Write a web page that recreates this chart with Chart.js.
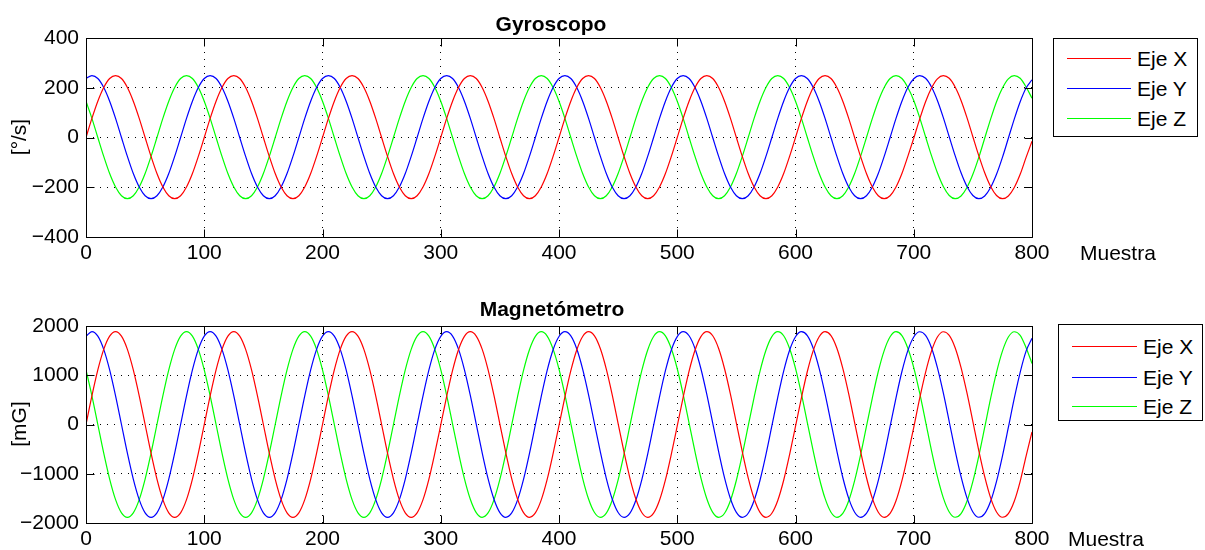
<!DOCTYPE html>
<html>
<head>
<meta charset="utf-8">
<script src="https://cdn.jsdelivr.net/npm/chart.js@4/dist/chart.umd.min.js"></script>
<style>
  html, body { margin: 0; padding: 0; background: #fff; }
  body { width: 1205px; height: 550px; position: relative; overflow: hidden; font-family: "Liberation Sans", Arial, sans-serif; color: #000; }
  .cv { position: absolute; left: 0; }
  .txt { position: absolute; font-size: 21px; line-height: 1; white-space: nowrap; }
  .title { font-weight: bold; transform: translate(-50%, -50%); }
  .ylab { transform: translate(-50%, -50%) rotate(-90deg); }
  .legend { position: absolute; border: 1px solid #000; background: #fff; box-sizing: border-box; }
  .legend .ln { position: absolute; height: 0; border-top: 1px solid; }
  .legend .lt { position: absolute; font-size: 21px; line-height: 1; transform: translateY(-50%); white-space: nowrap; }
</style>
</head>
<body>
<canvas id="c1" class="cv" width="1205" height="275" style="top:0"></canvas>
<canvas id="c2" class="cv" width="1205" height="275" style="top:275px"></canvas>

<div class="txt title" style="left:551px; top:23px">Gyroscopo</div>
<div class="txt title" style="left:552px; top:308px">Magnetómetro</div>
<div class="txt ylab" style="left:18px; top:137px">[°/s]</div>
<div class="txt ylab" style="left:18px; top:424px">[mG]</div>
<div class="txt" style="left:1080px; top:242px">Muestra</div>
<div class="txt" style="left:1068px; top:528px">Muestra</div>
<div id="leg1" class="legend" style="left:1053px; top:38px; width:145px; height:99px"></div>
<div id="leg2" class="legend" style="left:1058px; top:324px; width:145px; height:97px"></div>

<script>
// ---------- data ----------
const samples = [
  0,5,10,15,20,25,30,35,40,45,50,55,60,65,70,75,80,85,90,95,
  100,105,110,115,120,125,130,135,140,145,150,155,160,165,170,175,180,185,190,195,
  200,205,210,215,220,225,230,235,240,245,250,255,260,265,270,275,280,285,290,295,
  300,305,310,315,320,325,330,335,340,345,350,355,360,365,370,375,380,385,390,395,
  400,405,410,415,420,425,430,435,440,445,450,455,460,465,470,475,480,485,490,495,
  500,505,510,515,520,525,530,535,540,545,550,555,560,565,570,575,580,585,590,595,
  600,605,610,615,620,625,630,635,640,645,650,655,660,665,670,675,680,685,690,695,
  700,705,710,715,720,725,730,735,740,745,750,755,760,765,770,775,780,785,790,795,
  800
];
const seriesNames = ["Eje X", "Eje Y", "Eje Z"];
const seriesColors = ["#ff0000", "#0000ff", "#00ff00"];

const gyroTicks = [-400, -200, 0, 200, 400];
const magTicks = [-2000, -1000, 0, 1000, 2000];
const sampleTicks = [0, 100, 200, 300, 400, 500, 600, 700, 800];

const gyroX = [
  0,77,146,201,237,249,237,201,146,77,0,-76,-145,-199,-234,-246,-234,-199,-145,-76,
  0,77,146,201,237,249,237,201,146,77,0,-76,-145,-199,-234,-246,-234,-199,-145,-76,
  0,77,146,201,237,249,237,201,146,77,0,-76,-145,-199,-234,-246,-234,-199,-145,-76,
  0,77,146,201,237,249,237,201,146,77,0,-76,-145,-199,-234,-246,-234,-199,-145,-76,
  0,77,146,201,237,249,237,201,146,77,0,-76,-145,-199,-234,-246,-234,-199,-145,-76,
  0,77,146,201,237,249,237,201,146,77,0,-76,-145,-199,-234,-246,-234,-199,-145,-76,
  0,77,146,201,237,249,237,201,146,77,0,-76,-145,-199,-234,-246,-234,-199,-145,-76,
  -3,74,144,199,236,249,238,203,149,80,3,-73,-142,-197,-233,-246,-235,-201,-148,-80,
  -15
];
const gyroY = [
  237,249,237,201,146,77,0,-76,-145,-199,-234,-246,-234,-199,-145,-76,0,77,146,201,
  237,249,237,201,146,77,0,-76,-145,-199,-234,-246,-234,-199,-145,-76,0,77,146,201,
  237,249,237,201,146,77,0,-76,-145,-199,-234,-246,-234,-199,-145,-76,0,77,146,201,
  237,249,237,201,146,77,0,-76,-145,-199,-234,-246,-234,-199,-145,-76,0,77,146,201,
  237,249,237,201,146,77,0,-76,-145,-199,-234,-246,-234,-199,-145,-76,0,77,146,201,
  237,249,237,201,146,77,0,-76,-145,-199,-234,-246,-234,-199,-145,-76,0,77,146,201,
  237,249,237,201,146,77,0,-76,-145,-199,-234,-246,-234,-199,-145,-76,0,77,146,201,
  236,249,238,203,149,80,3,-73,-142,-197,-233,-246,-235,-201,-148,-80,-3,74,144,199,
  232
];
const gyroZ = [
  146,77,0,-76,-145,-199,-234,-246,-234,-199,-145,-76,0,77,146,201,237,249,237,201,
  146,77,0,-76,-145,-199,-234,-246,-234,-199,-145,-76,0,77,146,201,237,249,237,201,
  146,77,0,-76,-145,-199,-234,-246,-234,-199,-145,-76,0,77,146,201,237,249,237,201,
  146,77,0,-76,-145,-199,-234,-246,-234,-199,-145,-76,0,77,146,201,237,249,237,201,
  146,77,0,-76,-145,-199,-234,-246,-234,-199,-145,-76,0,77,146,201,237,249,237,201,
  146,77,0,-76,-145,-199,-234,-246,-234,-199,-145,-76,0,77,146,201,237,249,237,201,
  146,77,0,-76,-145,-199,-234,-246,-234,-199,-145,-76,0,77,146,201,237,249,237,201,
  149,80,3,-73,-142,-197,-233,-246,-235,-201,-148,-80,-3,74,144,199,236,249,238,203,
  158
];

const magX = [
  0,582,1108,1525,1793,1885,1793,1525,1108,582,0,-582,-1108,-1525,-1793,-1885,-1793,-1525,-1108,-582,
  0,582,1108,1525,1793,1885,1793,1525,1108,582,0,-582,-1108,-1525,-1793,-1885,-1793,-1525,-1108,-582,
  0,582,1108,1525,1793,1885,1793,1525,1108,582,0,-582,-1108,-1525,-1793,-1885,-1793,-1525,-1108,-582,
  -10,572,1100,1519,1790,1885,1796,1531,1116,592,10,-572,-1100,-1519,-1790,-1885,-1796,-1531,-1116,-592,
  -20,562,1092,1513,1787,1885,1799,1537,1124,602,20,-562,-1092,-1513,-1787,-1885,-1799,-1537,-1124,-602,
  -30,552,1084,1507,1784,1884,1802,1543,1132,612,30,-552,-1084,-1507,-1784,-1884,-1802,-1543,-1132,-612,
  -40,542,1076,1501,1781,1884,1805,1549,1140,622,40,-542,-1076,-1501,-1781,-1884,-1805,-1549,-1140,-622,
  -60,530,1060,1490,1776,1883,1810,1560,1155,640,60,-530,-1060,-1490,-1776,-1883,-1810,-1560,-1155,-640,
  -150
];
const magY = [
  1793,1885,1793,1525,1108,582,0,-582,-1108,-1525,-1793,-1885,-1793,-1525,-1108,-582,0,582,1108,1525,
  1793,1885,1793,1525,1108,582,0,-582,-1108,-1525,-1793,-1885,-1793,-1525,-1108,-582,0,582,1108,1525,
  1793,1885,1793,1525,1108,582,0,-582,-1108,-1525,-1793,-1885,-1793,-1525,-1108,-582,0,582,1108,1525,
  1790,1885,1796,1531,1116,592,10,-572,-1100,-1519,-1790,-1885,-1796,-1531,-1116,-592,-10,572,1100,1519,
  1787,1885,1799,1537,1124,602,20,-562,-1092,-1513,-1787,-1885,-1799,-1537,-1124,-602,-20,562,1092,1513,
  1784,1884,1802,1543,1132,612,30,-552,-1084,-1507,-1784,-1884,-1802,-1543,-1132,-612,-30,552,1084,1507,
  1781,1884,1805,1549,1140,622,40,-542,-1076,-1501,-1781,-1884,-1805,-1549,-1140,-622,-40,542,1076,1501,
  1776,1883,1810,1560,1155,640,60,-530,-1060,-1490,-1776,-1883,-1810,-1560,-1155,-640,-60,530,1060,1490,
  1750
];
const magZ = [
  1108,582,0,-582,-1108,-1525,-1793,-1885,-1793,-1525,-1108,-582,0,582,1108,1525,1793,1885,1793,1525,
  1108,582,0,-582,-1108,-1525,-1793,-1885,-1793,-1525,-1108,-582,0,582,1108,1525,1793,1885,1793,1525,
  1108,582,0,-582,-1108,-1525,-1793,-1885,-1793,-1525,-1108,-582,0,582,1108,1525,1793,1885,1793,1525,
  1116,592,10,-572,-1100,-1519,-1790,-1885,-1796,-1531,-1116,-592,-10,572,1100,1519,1790,1885,1796,1531,
  1124,602,20,-562,-1092,-1513,-1787,-1885,-1799,-1537,-1124,-602,-20,562,1092,1513,1787,1885,1799,1537,
  1132,612,30,-552,-1084,-1507,-1784,-1884,-1802,-1543,-1132,-612,-30,552,1084,1507,1784,1884,1802,1543,
  1140,622,40,-542,-1076,-1501,-1781,-1884,-1805,-1549,-1140,-622,-40,542,1076,1501,1781,1884,1805,1549,
  1155,640,60,-530,-1060,-1490,-1776,-1883,-1810,-1560,-1155,-640,-60,530,1060,1490,1776,1883,1810,1560,
  1240
];

// ---------- chart construction ----------
const FONT = { family: "'Liberation Sans', Arial, sans-serif", size: 21 };
const fmt = v => String(v).replace('-', '\u2212');

const framePlugin = {
  id: 'frame',
  afterDatasetsDraw(chart) {
    const { ctx, chartArea: a, scales } = chart;
    ctx.save();
    ctx.strokeStyle = '#000';
    ctx.lineWidth = 1;
    ctx.beginPath();
    const L = Math.round(a.left) + 0.5, R = Math.round(a.right) + 0.5;
    const T = Math.round(a.top) + 0.5, B = Math.round(a.bottom) + 0.5;
    ctx.rect(L, T, R - L, B - T);
    const tl = 8;
    scales.x.ticks.forEach(t => {
      const x = Math.round(scales.x.getPixelForValue(t.value)) + 0.5;
      ctx.moveTo(x, T); ctx.lineTo(x, T + tl);
      ctx.moveTo(x, B); ctx.lineTo(x, B - tl);
    });
    scales.y.ticks.forEach(t => {
      const y = Math.round(scales.y.getPixelForValue(t.value)) + 0.5;
      ctx.moveTo(L, y); ctx.lineTo(L + tl, y);
      ctx.moveTo(R, y); ctx.lineTo(R - tl, y);
    });
    ctx.stroke();
    ctx.restore();
  }
};

function makeChart(id, series, yTicks, padTop, xAxisH) {
  const datasets = series.map((vals, i) => ({
    label: seriesNames[i],
    data: vals.map((v, j) => ({ x: samples[j], y: v })),
    borderColor: seriesColors[i],
    backgroundColor: seriesColors[i],
    borderWidth: 1.2,
    pointRadius: 0,
    cubicInterpolationMode: 'monotone',
    fill: false
  }));
  return new Chart(document.getElementById(id), {
    type: 'line',
    data: { datasets },
    options: {
      responsive: false,
      animation: false,
      devicePixelRatio: 1,
      events: [],
      layout: { padding: { left: 0, right: 1205 - 1032, top: padTop, bottom: 0 } },
      plugins: { legend: { display: false }, title: { display: false }, tooltip: { enabled: false } },
      scales: {
        x: {
          type: 'linear',
          min: sampleTicks[0], max: sampleTicks[sampleTicks.length - 1],
          afterBuildTicks: s => { s.ticks = sampleTicks.map(v => ({ value: v })); },
          afterFit: s => { s.height = xAxisH; },
          ticks: { font: FONT, color: '#000', padding: 4, maxRotation: 0, autoSkip: false, callback: fmt },
          grid: { color: '#000', lineWidth: 1, drawTicks: false },
          border: { display: false, dash: [1, 6] }
        },
        y: {
          type: 'linear',
          min: yTicks[0], max: yTicks[yTicks.length - 1],
          afterBuildTicks: s => { s.ticks = yTicks.map(v => ({ value: v })); },
          afterFit: s => { s.width = 86; },
          ticks: { font: FONT, color: '#000', padding: 7, autoSkip: false, callback: fmt },
          grid: { color: '#000', lineWidth: 1, drawTicks: false },
          border: { display: false, dash: [1, 6] }
        }
      }
    },
    plugins: [framePlugin]
  });
}

const ch1 = makeChart('c1', [gyroX, gyroY, gyroZ], gyroTicks, 38, 275 - 237);
const ch2 = makeChart('c2', [magX, magY, magZ], magTicks, 326 - 275, 275 - 248);

// ---------- HTML legends built from the datasets ----------
function buildLegend(elId, chart, rows, lineL, lineR, textL) {
  const el = document.getElementById(elId);
  const box = el.getBoundingClientRect();
  chart.data.datasets.forEach((ds, i) => {
    const y = rows[i] - box.top;
    const ln = document.createElement('div');
    ln.className = 'ln';
    ln.style.left = (lineL - box.left) + 'px';
    ln.style.width = (lineR - lineL) + 'px';
    ln.style.top = y + 'px';
    ln.style.borderTopColor = ds.borderColor;
    el.appendChild(ln);
    const t = document.createElement('div');
    t.className = 'lt';
    t.style.left = (textL - box.left) + 'px';
    t.style.top = y + 'px';
    t.textContent = ds.label;
    el.appendChild(t);
  });
}
buildLegend('leg1', ch1, [56.5, 87, 117], 1066, 1130, 1136);
buildLegend('leg2', ch2, [345, 375.5, 404.5], 1071, 1136, 1142);
</script>
</body>
</html>
